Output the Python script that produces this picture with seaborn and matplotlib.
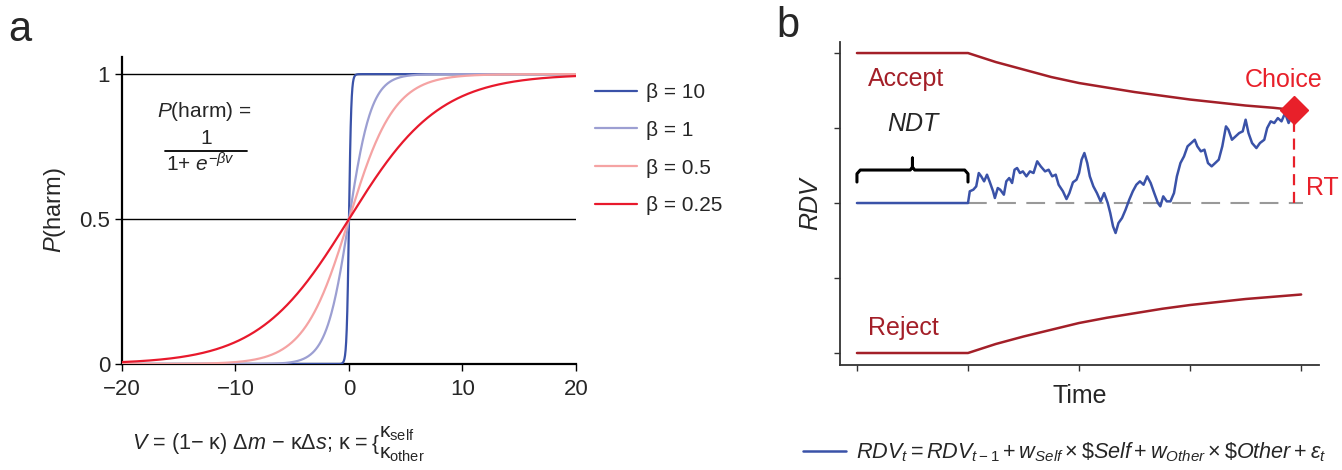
import numpy as np
import pandas as pd
import matplotlib
matplotlib.use('Agg')
import matplotlib.pyplot as plt
from matplotlib import font_manager
import seaborn as sns

# Panel a: logistic choice curves for several inverse temperatures
betas = [10, 1, 0.5, 0.25]
beta_labels = ['β = 10', 'β = 1', 'β = 0.5', 'β = 0.25']
beta_colors = ['#3a52a8', '#9c9fd2', '#f5a3a3', '#e8192c']
v_ticks = [-20, -10, 0, 10, 20]
p_ticks = [0, 0.5, 1]
p_ticklabels = ['0', '0.5', '1']

# Panel b: collapsing bounds and one evidence trace
bound_t = [0, 1.0, 1.25, 1.5, 1.75, 2.0, 2.25, 2.5, 2.75, 3.0, 3.25, 3.5, 3.75, 3.94]
accept_b = [2.0, 2.0, 1.88, 1.78, 1.68, 1.60, 1.54, 1.48, 1.43, 1.38, 1.34, 1.30, 1.27, 1.24]
reject_t = [0, 1.0, 1.25, 1.5, 1.75, 2.0, 2.25, 2.5, 2.75, 3.0, 3.25, 3.5, 3.75, 4.0]
reject_b = [-2.0, -2.0, -1.88, -1.78, -1.69, -1.60, -1.53, -1.47, -1.41, -1.36, -1.32, -1.28, -1.25, -1.22]

rdv_t = [0, 1.000, 1.016, 1.048, 1.074, 1.097, 1.119, 1.145, 1.171, 1.194, 1.226, 1.242, 1.268,
         1.290, 1.323, 1.345, 1.371, 1.397, 1.419, 1.442, 1.468, 1.494, 1.526, 1.558, 1.590,
         1.623, 1.655, 1.694, 1.726, 1.758, 1.790, 1.816, 1.855, 1.887, 1.913, 1.945, 1.977,
         2.000, 2.023, 2.048, 2.074, 2.097, 2.129, 2.161, 2.194, 2.226, 2.258, 2.281, 2.306,
         2.329, 2.355, 2.387, 2.419, 2.452, 2.484, 2.516, 2.548, 2.581, 2.613, 2.645, 2.677,
         2.710, 2.732, 2.758, 2.790, 2.823, 2.855, 2.881, 2.913, 2.945, 2.977, 3.010, 3.042,
         3.065, 3.097, 3.129, 3.161, 3.194, 3.226, 3.258, 3.290, 3.323, 3.345, 3.377, 3.410,
         3.442, 3.474, 3.500, 3.526, 3.558, 3.597, 3.629, 3.668, 3.694, 3.726, 3.758, 3.790,
         3.823, 3.855, 3.887, 3.913, 3.935]
rdv = [0, 0, 0.156, 0.178, 0.222, 0.400, 0.356, 0.289, 0.378, 0.289, 0.156, 0.067, 0.200,
       0.178, 0.111, 0.289, 0.333, 0.267, 0.444, 0.467, 0.400, 0.422, 0.356, 0.422, 0.400,
       0.556, 0.489, 0.422, 0.444, 0.356, 0.378, 0.244, 0.156, 0.053, 0.133, 0.276, 0.311,
       0.400, 0.578, 0.667, 0.533, 0.356, 0.222, 0.133, 0.022, 0.133, 0.0, -0.133, -0.311,
       -0.400, -0.267, -0.200, -0.089, 0.044, 0.156, 0.244, 0.289, 0.244, 0.356, 0.267, 0.133,
       0.0, -0.044, 0.089, 0.022, 0.022, 0.133, 0.356, 0.533, 0.622, 0.756, 0.800, 0.844,
       0.756, 0.689, 0.711, 0.533, 0.489, 0.533, 0.578, 0.756, 1.022, 0.978, 0.844, 0.889,
       0.933, 0.956, 1.111, 0.933, 0.800, 0.733, 0.800, 0.844, 1.000, 1.089, 1.067, 1.133,
       1.089, 1.200, 1.067, 1.156, 1.244]
ndt_end = 1.0
choice_t, choice_rdv = 3.94, 1.24
time_ticks = [0, 1, 2, 3, 4]
rdv_ticks = [-2, -1, 0, 1, 2]

sns.set_style('ticks')
names = {f.name for f in font_manager.fontManager.ttflist}
base = 'Liberation Sans Narrow' if 'Liberation Sans Narrow' in names else 'Liberation Sans'
plt.rcParams['font.family'] = [base, 'DejaVu Sans']
plt.rcParams['mathtext.fontset'] = 'custom'
plt.rcParams['mathtext.rm'] = base
plt.rcParams['mathtext.it'] = base + ':italic'
plt.rcParams['mathtext.bf'] = base + ':bold'

blue = '#3a52a8'
dark_red = '#a31f28'
red = '#e8202a'

fig = plt.figure(figsize=(13.42, 4.70), dpi=100)
ax_a = fig.add_axes([0.0909, 0.2255, 0.3383, 0.6532])
ax_b = fig.add_axes([0.6259, 0.2234, 0.3569, 0.6872])

# ---- panel a
v = np.linspace(-20, 20, 801)
curves = pd.concat([pd.DataFrame({'v': v, 'p': 1 / (1 + np.exp(-b * v)), 'beta': lab})
                    for b, lab in zip(betas, beta_labels)])
ax_a.axhline(1, color='black', lw=1, zorder=1)
ax_a.axhline(0.5, color='black', lw=1, zorder=1)
sns.lineplot(data=curves, x='v', y='p', hue='beta', hue_order=beta_labels,
             palette=dict(zip(beta_labels, beta_colors)), lw=1.6, ax=ax_a, zorder=3)
ax_a.set_xlim(-20, 20)
ax_a.set_ylim(0, 1.059)
ax_a.set_xticks(v_ticks)
ax_a.set_yticks(p_ticks)
ax_a.set_yticklabels(p_ticklabels)
ax_a.tick_params(labelsize=16, length=5, width=1, color='black')
ax_a.tick_params(axis='x', pad=6)
for s in ['left', 'bottom']:
    ax_a.spines[s].set_linewidth(1.6)
    ax_a.spines[s].set_color('black')
sns.despine(ax=ax_a)
ax_a.set_xlabel('')
ax_a.set_ylabel('$P$(harm)', fontsize=17, labelpad=8)
leg = ax_a.legend(loc='upper left', bbox_to_anchor=(595 / 1342, 1 - 83 / 470),
                  bbox_transform=fig.transFigure, frameon=False, fontsize=15,
                  handlelength=2.0, handletextpad=0.45, labelspacing=0.9,
                  borderpad=0, borderaxespad=0)
for h in leg.get_lines():
    h.set_linewidth(1.6)

# formula inset
fig.text(157 / 1342, 1 - 111 / 470, '$P$(harm) =', fontsize=15, ha='left', va='center')
fig.text(206 / 1342, 1 - 139 / 470, '1', fontsize=15, ha='center', va='center')
fig.add_artist(plt.Line2D([165 / 1342, 247 / 1342], [1 - 151 / 470] * 2,
                          transform=fig.transFigure, color='black', lw=1.3))
fig.text(166 / 1342, 1 - 164 / 470, r'1+ $e^{-\beta v}$', fontsize=15, ha='left', va='center')

# x-axis definition of V
fig.text(132 / 1342, 1 - 443 / 470,
         '$V$ = (1− κ) Δ$m$ − κΔ$s$; κ =', fontsize=15.6, ha='left', va='center')
fig.text(372 / 1342, 1 - 444 / 470, '{', fontsize=15, ha='left', va='center')
fig.text(379 / 1342, 1 - 433 / 470, r'κ$_{\mathrm{self}}$', fontsize=15, ha='left', va='center')
fig.text(379 / 1342, 1 - 455 / 470, r'κ$_{\mathrm{other}}$', fontsize=15, ha='left', va='center')

# ---- panel b
sns.lineplot(x=bound_t, y=accept_b, color=dark_red, lw=1.8, ax=ax_b)
sns.lineplot(x=reject_t, y=reject_b, color=dark_red, lw=1.8, ax=ax_b)
ax_b.plot([ndt_end, 4.02], [0, 0], color='#999999', lw=1.5, dashes=(9, 5), zorder=1)
sns.lineplot(x=rdv_t, y=rdv, color=blue, lw=1.8, ax=ax_b,
             label=r'$RDV_t = RDV_{t-1} + w_{Self} \times \$Self + w_{Other} \times \$Other + \varepsilon_t$')
ax_b.plot([choice_t, choice_t], [0, choice_rdv], color=red, lw=1.6, dashes=(5, 3))
ax_b.plot([choice_t], [choice_rdv], marker='D', markersize=14, color=red, zorder=5)

# NDT brace
bx = [0, 0, 0.03, 0.48, 0.5, 0.5, 0.5, 0.52, 0.97, 1.0, 1.0]
by = [0.28, 0.39, 0.44, 0.44, 0.48, 0.60, 0.48, 0.44, 0.44, 0.39, 0.28]
ax_b.plot(bx, by, color='black', lw=2.2, solid_joinstyle='round')
ax_b.text(0.5, 1.05, 'NDT', style='italic', fontsize=18, ha='center', va='center')
ax_b.text(0.1, 1.65, 'Accept', color=dark_red, fontsize=18, ha='left', va='center')
ax_b.text(0.1, -1.66, 'Reject', color=dark_red, fontsize=18, ha='left', va='center')
ax_b.text(3.84, 1.64, 'Choice', color=red, fontsize=18, ha='center', va='center')
ax_b.text(4.04, 0.2, 'RT', color=red, fontsize=18, ha='left', va='center')

ax_b.set_xlim(-0.153, 4.16)
ax_b.set_ylim(-2.16, 2.147)
ax_b.set_xticks(time_ticks)
ax_b.set_yticks(rdv_ticks)
ax_b.set_xticklabels([])
ax_b.set_yticklabels([])
ax_b.tick_params(length=4, width=1, color='#333333')
for s in ['left', 'bottom']:
    ax_b.spines[s].set_linewidth(1.3)
    ax_b.spines[s].set_color('#333333')
sns.despine(ax=ax_b)
ax_b.set_xlabel('Time', fontsize=18, labelpad=6)
ax_b.set_ylabel('RDV', style='italic', fontsize=18, labelpad=5)
ax_b.legend(loc='center left', bbox_to_anchor=(803 / 1342, 1 - 452 / 470),
            bbox_transform=fig.transFigure, frameon=False, fontsize=15.6,
            handlelength=2.0, handletextpad=0.45, borderpad=0, borderaxespad=0)

fig.text(20 / 1342, 1 - 30 / 470, 'a', fontsize=30, ha='center', va='center')
fig.text(788 / 1342, 1 - 26 / 470, 'b', fontsize=30, ha='center', va='center')

fig.savefig('out.png', dpi=100)
